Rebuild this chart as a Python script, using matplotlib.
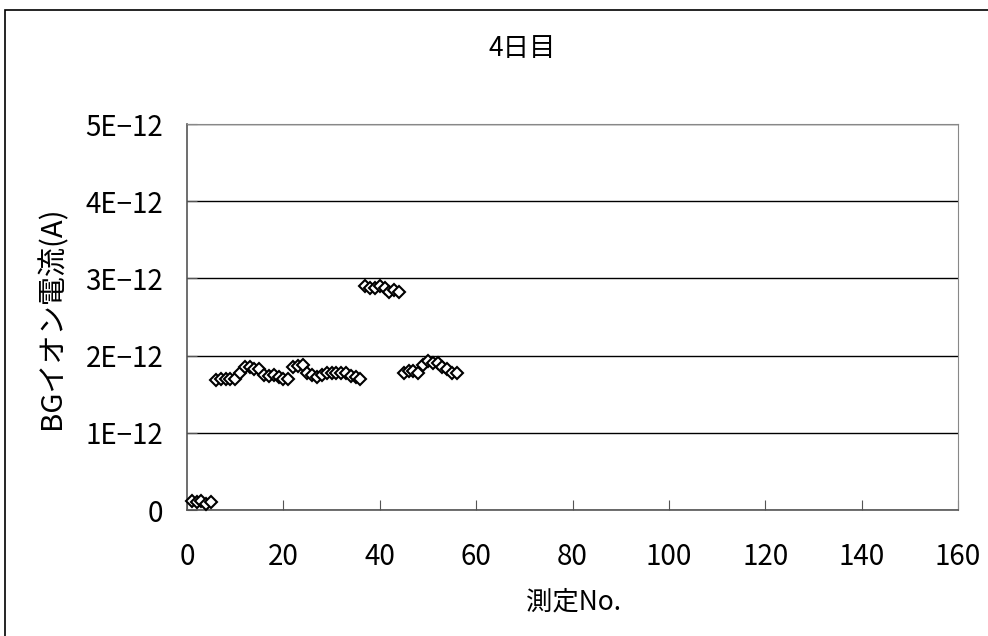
import matplotlib
matplotlib.use("Agg")
import matplotlib.pyplot as plt
from matplotlib.patches import Rectangle

plt.rcParams['font.family'] = ['Noto Sans CJK JP', 'DejaVu Sans']

# measurement number and BG ion current (A)
meas_no = list(range(1, 57))
current = [0.12, 0.10, 0.12, 0.08, 0.10,
           1.68, 1.70, 1.70, 1.70, 1.70, 1.78, 1.85, 1.85, 1.82, 1.83,
           1.75, 1.73, 1.75, 1.72, 1.70, 1.70, 1.85, 1.87, 1.88, 1.78,
           1.75, 1.72, 1.75, 1.77, 1.78, 1.77, 1.78, 1.77, 1.73, 1.72,
           1.70,
           2.90, 2.87, 2.87, 2.90, 2.87, 2.83, 2.85, 2.83,
           1.78, 1.80, 1.80, 1.78, 1.88, 1.93, 1.90, 1.90, 1.85, 1.82,
           1.78, 1.78]
current = [v * 1e-12 for v in current]

xticks = [0, 20, 40, 60, 80, 100, 120, 140, 160]
yticks = [0, 1e-12, 2e-12, 3e-12, 4e-12, 5e-12]
ylabels = ['0', '1E\u221212', '2E\u221212', '3E\u221212', '4E\u221212', '5E\u221212']

fig = plt.figure(figsize=(9.88, 6.36), dpi=100)
# outer chart border (cut off at right/bottom)
fig.patches.append(Rectangle((5/988, -0.05), 1.2, 1 - 10/636 + 0.05,
                             transform=fig.transFigure, fill=False,
                             edgecolor='black', linewidth=1.2))

ax = fig.add_axes([187/988, 1 - 510/636, (958-187)/988, (510-124)/636])
ax.plot(meas_no, current, linestyle='none', marker='D', ms=6.5,
        mfc='white', mec='black', mew=1.5, clip_on=False, zorder=3)

ax.set_xlim(0, 160)
ax.set_ylim(0, 5e-12)
ax.set_xticks(xticks)
ax.set_xticklabels([str(t) for t in xticks])
ax.set_yticks(yticks)
ax.set_yticklabels(ylabels)
ax.grid(axis='y', color='black', linewidth=1)
ax.set_axisbelow(True)

for s in ['top', 'right']:
    ax.spines[s].set_color('#888888')
for s in ['left', 'bottom']:
    ax.spines[s].set_color('#555555')
    ax.spines[s].set_linewidth(1.2)

ax.tick_params(axis='both', direction='in', length=7, color='#555555',
               labelsize=20)
ax.tick_params(axis='x', pad=23)
ax.tick_params(axis='y', pad=17)

ax.set_xlabel('測定No.', fontsize=19)
ax.set_ylabel('BGイオン電流(A)', fontsize=21)
ax.xaxis.set_label_coords((573 - 187) / 771, (510 - 588) / 386)
ax.yaxis.set_label_coords((67 - 187) / 771, (510 - 318) / 386)
fig.text(522/988, 1 - 48/636, '4日目', fontsize=19, ha='center', va='center')

fig.savefig('out.png', dpi=100)
